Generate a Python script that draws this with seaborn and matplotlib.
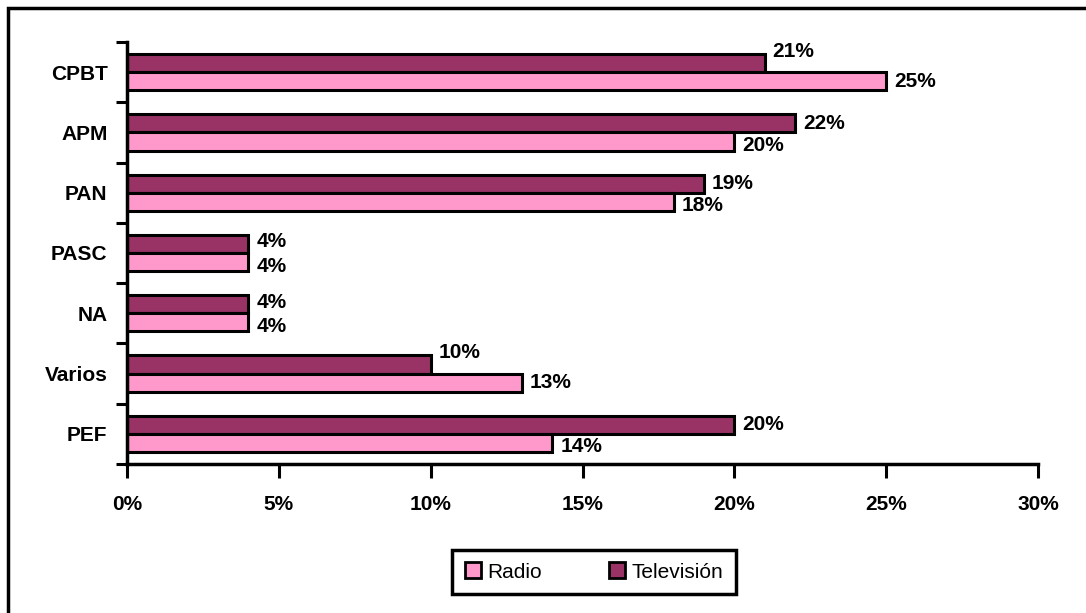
import pandas as pd
import matplotlib.pyplot as plt
import matplotlib.patches as mpatches
from matplotlib.ticker import FuncFormatter, FixedLocator
import seaborn as sns

# Data (percent)
categories = ["CPBT", "APM", "PAN", "PASC", "NA", "Varios", "PEF"]
radio = [25, 20, 18, 4, 4, 13, 14]
television = [21, 22, 19, 4, 4, 10, 20]

series_names = ["Radio", "Televisión"]
colors = {"Radio": "#FF99CC", "Televisión": "#993366"}

df = pd.DataFrame({
    "cat": categories * 2,
    "serie": ["Radio"] * len(categories) + ["Televisión"] * len(categories),
    "val": radio + television,
})

sns.set_style("white")
plt.rcParams["font.family"] = ["Liberation Sans", "DejaVu Sans"]
plt.rcParams["font.weight"] = "bold"
plt.rcParams["text.color"] = "black"
plt.rcParams["xtick.color"] = "black"
plt.rcParams["ytick.color"] = "black"

fig = plt.figure(figsize=(10.86, 6.13), dpi=100)
ax = fig.add_axes([127 / 1086, 1 - 464 / 613, (1038 - 127) / 1086, (464 - 42) / 613])

sns.barplot(data=df, x="val", y="cat", hue="serie", order=categories,
            hue_order=["Televisión", "Radio"], palette=colors, saturation=1,
            width=0.6, edgecolor="black", linewidth=2.2, ax=ax, legend=False,
            orient="h")

ax.set_xlim(0, 30)
ax.set_ylim(6.5, -0.5)
ax.set_xticks(range(0, 31, 5))
ax.xaxis.set_major_formatter(FuncFormatter(lambda v, p: f"{v:.0f}%"))
ax.tick_params(axis="x", direction="out", length=10, width=2.2, pad=12,
               labelsize=15, bottom=True)
ax.yaxis.set_minor_locator(FixedLocator([i - 0.5 for i in range(len(categories) + 1)]))
ax.tick_params(axis="y", which="major", length=0, pad=14, labelsize=15)
ax.tick_params(axis="y", which="minor", direction="out", length=8, width=2.2, left=True)
ax.set_xlabel("")
ax.set_ylabel("")
for s in ["top", "right"]:
    ax.spines[s].set_visible(False)
for s in ["left", "bottom"]:
    ax.spines[s].set_color("black")
    ax.spines[s].set_linewidth(2.5)

# value labels
bw = 0.3
for i, (r, t) in enumerate(zip(radio, television)):
    t_dy = 12 if t < r else (2 if t == r else 0)
    r_dy = -4 if t >= r else 0
    ax.annotate(f"{t}%", (t, i - bw / 2), xytext=(8, t_dy), textcoords="offset pixels",
                ha="left", va="center", fontsize=15)
    ax.annotate(f"{r}%", (r, i + bw / 2), xytext=(8, r_dy), textcoords="offset pixels",
                ha="left", va="center", fontsize=15)

# legend
handles = [mpatches.Patch(facecolor=colors[n], edgecolor="black", linewidth=2, label=n)
           for n in series_names]
leg = fig.legend(handles=handles, loc="center", bbox_to_anchor=(0.547, 0.067), ncol=2,
                 fontsize=15, frameon=True, fancybox=False, framealpha=1,
                 handlelength=0.8, handleheight=0.8, handletextpad=0.3,
                 columnspacing=3.2, borderpad=0.6)
leg.get_frame().set_edgecolor("black")
leg.get_frame().set_linewidth(2.5)
for txt in leg.get_texts():
    txt.set_fontweight("normal")

# outer frame
fig.patches.append(mpatches.Rectangle((8 / 1086, -0.05), 1.1, 1 - 8 / 613 + 0.05,
                                      transform=fig.transFigure, fill=False,
                                      edgecolor="black", linewidth=2.5))

plt.savefig("out.png", dpi=100)
plt.close()
